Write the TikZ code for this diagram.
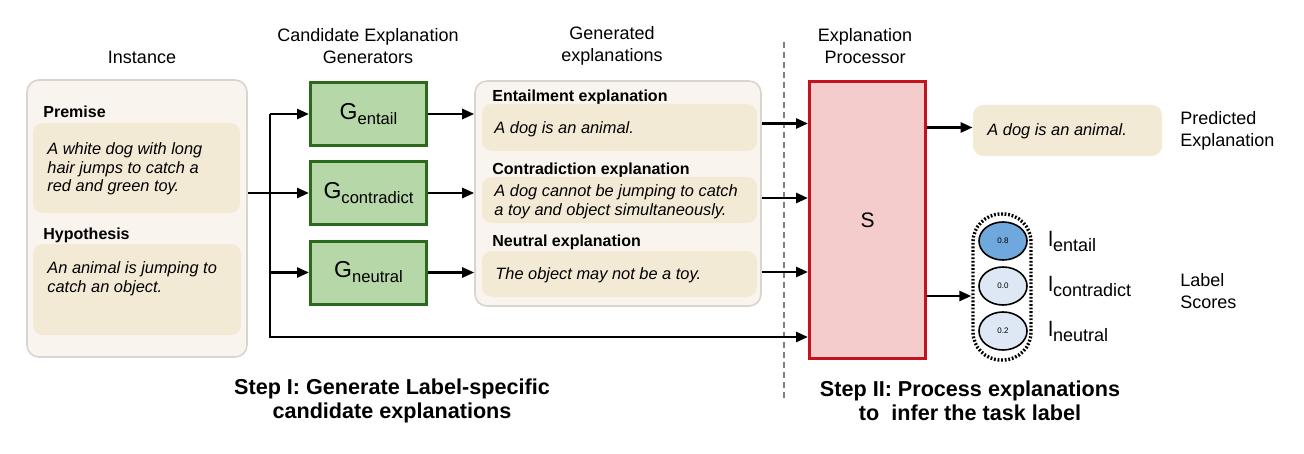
\documentclass[tikz,border=0pt]{standalone}
\usepackage{fontspec}
\setmainfont{Liberation Sans}
\usetikzlibrary{arrows.meta,shapes.geometric}
\definecolor{outerfill}{HTML}{F9F5EE}
\definecolor{boxgray}{HTML}{D8D5D0}
\definecolor{innerfill}{HTML}{F3EAD6}
\definecolor{genfill}{HTML}{B6D7A8}
\definecolor{gendraw}{HTML}{2B6A1D}
\definecolor{procfill}{HTML}{F4CCCC}
\definecolor{procdraw}{HTML}{C3131E}
\definecolor{hiblue}{HTML}{6FA8DC}
\definecolor{loblue}{HTML}{DDE8F4}
\newcommand{\gname}[1]{{\fontsize{11.5}{12}\selectfont G}\raisebox{-2.5pt}{\fontsize{8.3}{9}\selectfont #1}}
\newcommand{\lname}[1]{{\fontsize{10.5}{12}\selectfont l}\raisebox{-2.5pt}{\fontsize{9}{10}\selectfont #1}}

\begin{document}
\begin{tikzpicture}[x=0.5pt, y=-0.5pt,
	title/.style={align=center, font=\fontsize{9}{11}\selectfont},
	head/.style={anchor=west, inner sep=0pt, font=\fontsize{8}{9.5}\selectfont\bfseries},
	quote/.style={anchor=west, inner sep=0pt, align=left, font=\fontsize{8.2}{9.3}\selectfont\itshape},
	outerbox/.style={draw=boxgray, fill=outerfill, line width=0.8pt, rounded corners=6pt},
	innerbox/.style={fill=innerfill, rounded corners=5pt},
	genbox/.style={draw=gendraw, fill=genfill, line width=1.5pt, minimum width=58pt, minimum height=31.5pt, inner sep=0pt},
	score/.style={ellipse, draw, line width=0.8pt, minimum width=24pt, minimum height=19pt, inner sep=0pt, font=\fontsize{4}{4}\selectfont},
	steptext/.style={align=center, font=\fontsize{10.8}{12}\selectfont\bfseries},
	arr/.style={line width=1.3pt, -{Triangle[length=6pt,width=5pt]}},
	link/.style={line width=1.3pt}
]
	%%%%% START %%%%%
	\useasboundingbox (0,0) rectangle (1304,454);

	% titles
	\node[title] (tinst) at (142,57) {Instance};
	\node[title] (tgen) at (368,46) {Candidate Explanation\\Generators};
	\node[title] (texp) at (612,46) {Generated\\explanations};
	\node[title] (tproc) at (865,46) {Explanation\\Processor};

	% instance
	\node[outerbox, minimum width=110pt, minimum height=138.5pt] (inst) at (137,218.5) {};
	\node[head] (lprem) at (43,112) {Premise};
	\node[innerbox, minimum width=103.5pt, minimum height=45pt] (prem) at (136.5,168) {};
	\node[quote] (qprem) at (47,169) {A white dog with long\\hair jumps to catch a\\red and green toy.};
	\node[head] (lhyp) at (43,235) {Hypothesis};
	\node[innerbox, minimum width=104pt, minimum height=45.5pt] (hyp) at (137,289.5) {};
	\node[quote] (qhyp) at (47,279) {An animal is jumping to\\catch an object.};

	% generators
	\node[genbox] (ge) at (368.5,114) {\gname{entail}};
	\node[genbox] (gc) at (368.5,193) {\gname{contradict}};
	\node[genbox] (gn) at (368.5,272.5) {\gname{neutral}};

	% generated explanations
	\node[outerbox, minimum width=143pt, minimum height=112.5pt] (gen) at (618,193.5) {};
	\node[head] (le) at (492,97) {Entailment explanation};
	\node[innerbox, minimum width=137.5pt, minimum height=23.5pt] (xe) at (619.5,127.5) {};
	\node[quote] (qe) at (494,129) {A dog is an animal.};
	\node[head] (lc) at (492,170) {Contradiction explanation};
	\node[innerbox, minimum width=137.5pt, minimum height=23pt] (xc) at (619.5,200) {};
	\node[quote] (qc) at (494,202) {A dog cannot be jumping to catch\\a toy and object simultaneously.};
	\node[head] (ln) at (492,242) {Neutral explanation};
	\node[innerbox, minimum width=137.5pt, minimum height=23pt] (xn) at (619.5,274) {};
	\node[quote] (qn) at (495,275) {The object may not be a toy.};

	% split
	\draw[gray, line width=0.8pt, dash pattern=on 3pt off 2pt] (784,42) -- (784,400);

	% processor
	\node[draw=procdraw, fill=procfill, line width=1.5pt, minimum width=58pt, minimum height=138.5pt, font=\fontsize{10.5}{12}\selectfont] (proc) at (867.5,220) {S};

	% outputs
	\node[innerbox, minimum width=94.5pt, minimum height=25.5pt] (pred) at (1067.5,130.5) {};
	\node[quote] (qpred) at (987,131) {A dog is an animal.};
	\node[title, anchor=west, align=left, inner sep=0pt] (tpred) at (1180,131) {Predicted\\Explanation};
	\node[draw, line width=1.7pt, dash pattern=on 0.9pt off 0.9pt, rounded corners=14pt, minimum width=29pt, minimum height=73pt] (cap) at (1002,287) {};
	\node[score, fill=hiblue] (se) at (1003,241) {0.8};
	\node[score, fill=loblue] (sc) at (1003,286) {0.0};
	\node[score, fill=loblue] (sn) at (1003,331) {0.2};
	\node[anchor=west, inner sep=0pt] (le2) at (1048,241) {\lname{entail}};
	\node[anchor=west, inner sep=0pt] (lc2) at (1048,286) {\lname{contradict}};
	\node[anchor=west, inner sep=0pt] (ln2) at (1048,331) {\lname{neutral}};
	\node[title, anchor=west, align=left, inner sep=0pt] (tscore) at (1180,291) {Label\\Scores};

	% steps
	\node[steptext] (step1) at (392,401) {Step I: Generate Label-specific\\candidate explanations};
	\node[steptext] (step2) at (970,401) {Step II: Process explanations\\to\ \ infer the task label};

	% connectors
	\coordinate (tr) at (270,193);
	\coordinate (low) at (270,337);
	\draw[arr] (inst.east |- gc.west) -- (gc.west);
	\draw[arr] (tr |- ge.west) -- (ge.west);
	\draw[arr] (tr |- gn.west) -- (gn.west);
	\draw[arr] (tr |- ge.west) -- (low) -- (low -| proc.west);
	\draw[arr] (ge.east) -- (ge.east -| gen.west);
	\draw[arr] (gc.east) -- (gc.east -| gen.west);
	\draw[arr] (gn.east) -- (gn.east -| gen.west);
	\draw[arr] ([yshift=2pt]xe.east -| gen.east) -- ([yshift=2pt]xe.east -| proc.west);
	\draw[arr] ([yshift=1pt]xc.east -| gen.east) -- ([yshift=1pt]xc.east -| proc.west);
	\draw[arr] ([yshift=1pt]xn.east -| gen.east) -- ([yshift=1pt]xn.east -| proc.west);
	\draw[arr] ([yshift=1.5pt]pred.west -| proc.east) -- ([yshift=1.5pt]pred.west);
	\draw[arr] ([yshift=-4.5pt]cap.west -| proc.east) -- ([yshift=-4.5pt]cap.west);
	%%%%% END %%%%%
\end{tikzpicture}
\end{document}
